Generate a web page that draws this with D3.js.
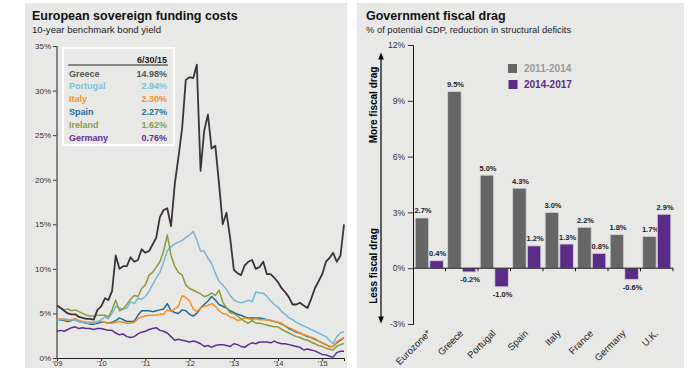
<!DOCTYPE html>
<html><head><meta charset="utf-8">
<script src="https://cdn.jsdelivr.net/npm/d3@7"></script>
<style>
html,body{margin:0;padding:0;background:#fff;}
svg{display:block;font-family:"Liberation Sans",Arial,Helvetica,sans-serif;}
</style></head>
<body>
<svg id="c" width="691" height="368"></svg>
<script>
// ---------- LEFT CHART DATA (monthly, Jan 2009 .. Jun 2015, plus 6/30/15) ----------
const countries = ["Greece","Portugal","Italy","Spain","Ireland","Germany"];
const lastValues = ["14.98%","2.94%","2.30%","2.27%","1.62%","0.76%"];
const yieldTicks = [0,5,10,15,20,25,30,35];
const yearLabels = ["'09","'10","'11","'12","'13","'14","'15"];

const greece = [5.9,5.6,5.3,5.0,4.9,4.9,4.6,4.5,4.4,4.4,4.3,5.4,
 5.8,6.7,6.5,7.5,11.5,10.0,10.3,10.3,11.3,10.8,11.0,12.2,
 11.8,12.0,12.7,13.5,15.8,16.6,16.8,14.8,19.5,22.5,25.8,31.2,
 31.5,31.4,32.9,21.0,25.5,27.3,23.5,23.8,19.5,15.0,16.3,13.5,
 9.9,9.5,9.3,10.4,10.8,11.0,10.0,10.2,10.8,9.4,9.4,9.0,
 8.5,7.8,7.4,6.8,6.0,6.0,6.2,5.9,5.6,6.6,7.8,8.6,
 9.4,10.8,11.2,11.8,10.8,11.5,14.98];
const portugal = [4.2,4.3,4.4,4.3,4.3,4.2,4.1,4.0,3.9,3.9,3.9,4.0,
 4.3,4.6,4.4,5.0,5.8,5.6,5.5,5.6,6.3,6.1,6.7,6.6,
 6.9,7.5,8.2,9.0,9.6,10.8,12.0,12.5,12.8,13.0,13.2,13.5,
 13.8,14.2,13.2,12.0,12.0,11.2,10.6,9.5,8.6,8.2,7.7,7.0,
 6.5,6.3,6.2,6.3,6.5,6.3,7.4,7.3,7.3,6.9,6.4,6.0,
 5.7,5.2,4.9,4.5,4.3,4.0,3.8,3.6,3.4,3.2,3.0,2.8,
 2.6,2.4,2.0,1.6,2.4,2.8,2.94];
const italy = [4.3,4.4,4.3,4.2,4.3,4.4,4.2,4.1,4.0,4.0,4.0,4.1,
 4.1,4.0,3.9,3.9,4.0,4.1,4.0,3.9,3.9,4.0,4.4,4.6,
 4.7,4.8,4.8,4.8,4.9,4.9,5.4,5.2,5.5,5.8,7.0,6.8,
 6.4,5.5,5.2,5.6,5.8,5.9,6.1,5.8,5.3,5.0,4.9,4.6,
 4.5,4.2,4.3,4.5,4.4,4.3,4.4,4.3,4.3,4.3,4.2,4.1,
 4.0,3.9,3.6,3.4,3.2,3.0,2.8,2.6,2.5,2.3,2.2,1.9,
 1.7,1.5,1.3,1.3,1.8,2.1,2.30];
const spain = [4.2,4.3,4.2,4.1,4.2,4.4,4.1,4.0,3.9,3.8,3.8,3.9,
 4.0,4.0,3.9,4.0,4.2,4.5,4.3,4.1,4.1,4.1,4.8,5.3,
 5.3,5.3,5.2,5.3,5.4,5.5,6.1,5.3,5.1,5.0,5.4,5.3,
 4.9,4.7,5.0,5.6,6.0,6.4,6.9,6.5,6.0,5.8,5.6,5.3,
 5.1,4.9,4.8,4.6,4.5,4.5,4.5,4.5,4.4,4.3,4.2,4.1,
 4.0,3.8,3.6,3.3,3.1,2.9,2.8,2.6,2.4,2.3,2.1,1.9,
 1.7,1.5,1.3,1.3,1.7,2.0,2.27];
const ireland = [5.8,5.6,5.4,5.5,5.3,5.4,5.2,5.0,4.8,4.7,4.7,4.8,
 4.8,4.8,4.6,5.4,6.5,5.3,5.5,6.0,6.6,7.0,6.9,7.8,
 8.2,9.3,9.6,10.2,10.8,12.0,13.8,11.5,10.3,9.6,9.3,8.2,
 7.8,7.6,7.4,7.2,6.9,7.0,7.3,7.0,7.6,6.3,5.6,5.1,
 5.0,4.7,4.4,4.1,3.9,4.2,3.9,3.9,3.8,3.7,3.6,3.5,
 3.5,3.2,3.0,2.8,2.6,2.4,2.3,2.1,2.0,1.8,1.6,1.4,
 1.3,1.1,1.0,0.9,1.3,1.5,1.62];
const germany = [3.0,3.1,3.0,3.2,3.4,3.5,3.3,3.4,3.3,3.3,3.2,3.3,
 3.3,3.2,3.1,3.1,2.8,2.6,2.7,2.4,2.3,2.4,2.7,2.9,
 3.0,3.2,3.3,3.4,3.1,3.0,2.8,2.4,2.0,2.1,2.0,1.9,
 1.8,1.9,1.8,1.6,1.3,1.4,1.2,1.4,1.5,1.5,1.4,1.3,
 1.6,1.5,1.3,1.2,1.5,1.7,1.6,1.8,1.8,1.8,1.7,1.9,
 1.7,1.6,1.6,1.5,1.4,1.3,1.2,0.9,1.0,0.9,0.8,0.6,
 0.4,0.35,0.2,0.1,0.6,0.75,0.76];

// ---------- RIGHT CHART DATA ----------
const regions = ["Eurozone*","Greece","Portugal","Spain","Italy","France","Germany","U.K."];
const drag1114 = [2.7,9.5,5.0,4.3,3.0,2.2,1.8,1.7];
const drag1417 = [0.4,-0.2,-1.0,1.2,1.3,0.8,-0.6,2.9];
const periods = ["2011-2014","2014-2017"];
const dragTicks = [-3,0,3,6,9,12];

// ---------- STYLE ----------
const lineColors = ["#3b3436","#72b8d8","#f78f1e","#1c6b95","#8b9a3b","#5e2f8f"];
const legendColors = ["#555555","#7dbfdd","#f7901e","#1f6f98","#8e9c45","#5e2f8f"];
const panelFill = "#e8e8e7";
const barColors = ["#666666","#5b2c87"];
const periodText = ["#9a9a9a","#5b2c87"];

const svg = d3.select("#c");
svg.append("rect").attr("x",25).attr("y",3).attr("width",322).attr("height",365).attr("fill",panelFill);
svg.append("rect").attr("x",357).attr("y",3).attr("width",327).attr("height",365).attr("fill",panelFill);

// ===== LEFT =====
svg.append("text").attr("x",32).attr("y",20).attr("font-size",12.5).attr("font-weight","bold").attr("fill","#111")
  .text("European sovereign funding costs");
svg.append("text").attr("x",32).attr("y",33).attr("font-size",9.6).attr("fill","#222")
  .text("10-year benchmark bond yield");

const months = d3.timeMonth.range(new Date(2009,0,1), new Date(2015,6,1));
const dates = months.concat([new Date(2015,5,30)]);
const x = d3.scaleTime().domain([new Date(2009,0,1), new Date(2015,5,30)]).range([57,344]);
const y = d3.scaleLinear().domain([0,35]).range([358,46]);

// y axis
const yAx = svg.append("g").attr("transform","translate(57,0)")
  .call(d3.axisLeft(y).tickValues(yieldTicks).tickSize(4).tickPadding(2).tickFormat(d=>d+"%"));
yAx.select(".domain").remove();
yAx.selectAll("text").attr("font-size",8).attr("fill","#333").attr("font-family","Liberation Sans, Arial, sans-serif");
yAx.selectAll("line").attr("stroke","#333");
svg.append("line").attr("x1",57).attr("x2",57).attr("y1",46).attr("y2",358).attr("stroke","#6a6a6a").attr("stroke-width",1.6);

// x axis
const yearDates = d3.range(2009,2016).map(yy=>new Date(yy,0,1));
const xAx = svg.append("g").attr("transform","translate(0,358)")
  .call(d3.axisBottom(x).tickValues(yearDates).tickSize(3).tickPadding(0).tickFormat((d,i)=>yearLabels[i]));
xAx.select(".domain").attr("stroke","#222");
xAx.selectAll("text").attr("font-size",7.5).attr("fill","#333").attr("dy","0.62em").attr("font-family","Liberation Sans, Arial, sans-serif");
xAx.selectAll("line").attr("stroke","#222");

const series = [greece,portugal,italy,spain,ireland,germany];
const line = d3.line().x((d,i)=>x(dates[i])).y(d=>y(d)).curve(d3.curveLinear);
const order = [5,3,2,1,4,0];
order.forEach(k=>{
  svg.append("path").datum(series[k]).attr("d",line).attr("fill","none")
    .attr("stroke",lineColors[k]).attr("stroke-width",k===0?1.8:1.5).attr("stroke-linejoin","round");
});

// legend box
svg.append("rect").attr("x",63).attr("y",48).attr("width",111).attr("height",97)
  .attr("fill",panelFill).attr("stroke","#fff").attr("stroke-width",2.2);
svg.append("text").attr("x",167).attr("y",63).attr("text-anchor","end").attr("font-size",9).attr("font-weight","bold").attr("fill","#222").text("6/30/15");
svg.append("line").attr("x1",68).attr("x2",168).attr("y1",65).attr("y2",65).attr("stroke","#222").attr("stroke-width",1);
countries.forEach((c,i)=>{
  const yy = 76.5 + i*12.8;
  svg.append("text").attr("x",69).attr("y",yy).attr("font-size",9).attr("font-weight","bold").attr("fill",legendColors[i]).text(c);
  svg.append("text").attr("x",167).attr("y",yy).attr("text-anchor","end").attr("font-size",9).attr("font-weight","bold").attr("fill",legendColors[i]).text(lastValues[i]);
});

// ===== RIGHT =====
svg.append("text").attr("x",366).attr("y",20).attr("font-size",12.5).attr("font-weight","bold").attr("fill","#111")
  .text("Government fiscal drag");
svg.append("text").attr("x",366).attr("y",33).attr("font-size",9.4).attr("fill","#222")
  .text("% of potential GDP, reduction in structural deficits");

const y2 = d3.scaleLinear().domain([-3,12]).range([324,45]);
const x2 = d3.scaleBand().domain(regions).range([413,673]).paddingInner(0).paddingOuter(0);
const xs = d3.scaleBand().domain(periods).range([0,x2.bandwidth()]).paddingInner(0.08).paddingOuter(0.15);

const y2Ax = svg.append("g").attr("transform","translate(413,0)")
  .call(d3.axisLeft(y2).tickValues(dragTicks).tickSize(5).tickPadding(3).tickFormat(d=>d+"%"));
y2Ax.select(".domain").attr("stroke","#111");
y2Ax.selectAll("text").attr("font-size",8.5).attr("fill","#333").attr("font-family","Liberation Sans, Arial, sans-serif");
y2Ax.selectAll("line").attr("stroke","#333");

const both = [drag1114, drag1417];
both.forEach((vals,s)=>{
  svg.append("g").selectAll("rect").data(vals).join("rect")
    .attr("x",(d,i)=>x2(regions[i])+xs(periods[s]))
    .attr("width",xs.bandwidth())
    .attr("y",d=>y2(Math.max(0,d)))
    .attr("height",d=>Math.abs(y2(d)-y2(0)))
    .attr("fill",barColors[s]).attr("stroke","#d4d4d4").attr("stroke-width",0.8);
  svg.append("g").selectAll("text").data(vals).join("text")
    .attr("x",(d,i)=>x2(regions[i])+xs(periods[s])+xs.bandwidth()/2+1)
    .attr("y",d=> d>=0 ? y2(d)-4.5 : y2(d)+10.5)
    .attr("text-anchor","middle").attr("font-size",7.5).attr("font-weight","bold").attr("fill","#222")
    .text(d=>d.toFixed(1)+"%");
});

// zero line and ticks
svg.append("line").attr("x1",413).attr("x2",673).attr("y1",y2(0)).attr("y2",y2(0)).attr("stroke","#111").attr("stroke-width",1);
regions.forEach((r,i)=>{
  const xx = x2(r)+x2.bandwidth();
  svg.append("line").attr("x1",xx).attr("x2",xx).attr("y1",y2(0)).attr("y2",y2(0)+3).attr("stroke","#111");
});

// category labels
regions.forEach(r=>{
  const cx = x2(r)+x2.bandwidth()/2+2;
  svg.append("text").attr("transform",`translate(${cx},${y2(-3)+10}) rotate(-45)`)
    .attr("text-anchor","end").attr("font-size",9.5).attr("fill","#222").text(r);
});

// legend
periods.forEach((p,i)=>{
  svg.append("rect").attr("x",508+i*0.5).attr("y",64+i*16).attr("width",9).attr("height",9).attr("fill",barColors[i]);
  svg.append("text").attr("x",524).attr("y",72+i*16).attr("font-size",10).attr("font-weight","bold").attr("fill",periodText[i]).text(p);
});

// arrow annotation
const defs = svg.append("defs");
defs.append("marker").attr("id","ah").attr("viewBox","0 0 10 10").attr("refX",5).attr("refY",5)
  .attr("markerWidth",6).attr("markerHeight",6).attr("orient","auto-start-reverse")
  .append("path").attr("d","M0,1 L10,5 L0,9 Z").attr("fill","#000");
svg.append("line").attr("x1",381).attr("x2",381).attr("y1",56).attr("y2",320).attr("stroke","#000").attr("stroke-width",1.2)
  .attr("marker-start","url(#ah)").attr("marker-end","url(#ah)");
svg.append("text").attr("transform","translate(377,105) rotate(-90)").attr("text-anchor","middle")
  .attr("font-size",10).attr("font-weight","bold").attr("fill","#000").text("More fiscal drag");
svg.append("text").attr("transform","translate(377,266) rotate(-90)").attr("text-anchor","middle")
  .attr("font-size",10).attr("font-weight","bold").attr("fill","#000").text("Less fiscal drag");
</script>
</body></html>
